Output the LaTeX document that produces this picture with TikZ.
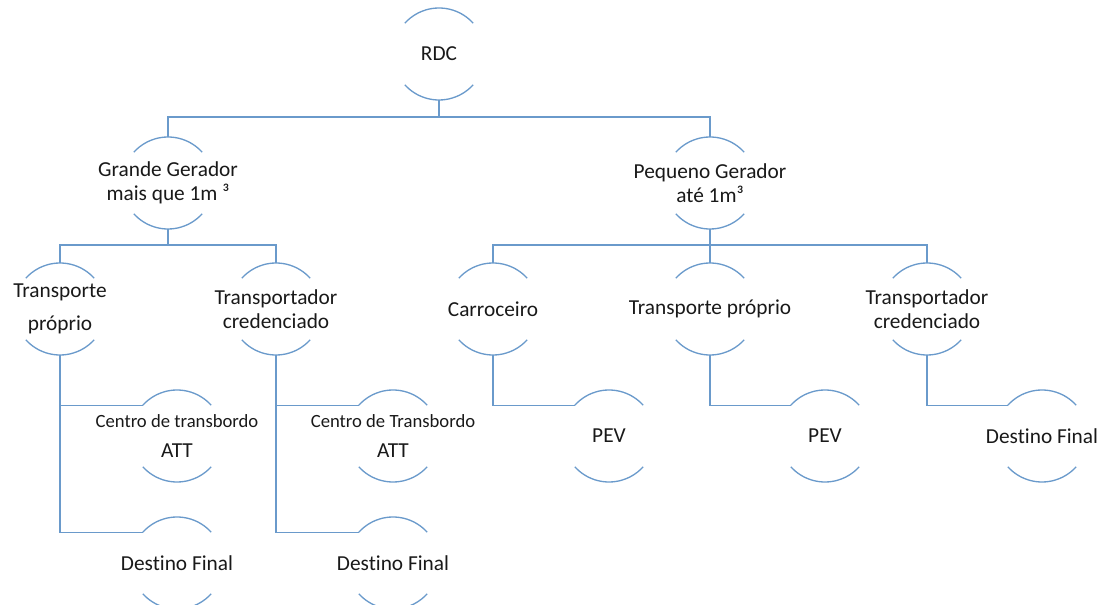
\documentclass[tikz,border=0pt]{standalone}
\usepackage{fontspec}
\setmainfont{Carlito}[Ligatures=NoCommon]
\usepackage{tikz}
\usetikzlibrary{positioning}
\definecolor{linkblue}{RGB}{106,154,203}
\tikzstyle{ln}=[draw=linkblue, line width=1pt]
\tikzstyle{ring}=[circle, minimum size=69pt, inner sep=0pt, outer sep=0pt]
\tikzstyle{lbl}=[font=\fontsize{16}{18}\selectfont, align=center, text=black!90, inner sep=0pt]
\tikzstyle{lblwide}=[lbl, font=\fontsize{16}{24.75}\selectfont]
\tikzstyle{lblsmall}=[lbl, font=\fontsize{16}{22.5}\selectfont]
\newcommand{\halfarcs}[1]{\draw[ln] (#1.42) arc[start angle=42,end angle=138,radius=34.5pt]
  (#1.222) arc[start angle=222,end angle=318,radius=34.5pt];}
\begin{document}
\begin{tikzpicture}[x=0.75pt, y=-0.75pt]
  \useasboundingbox (0,0) rectangle (1103,605);
  % top
  \node[ring, label={[lbl]center:RDC}] (rdc) at (439,54) {};
  \node[ring, label={[lbl]center:{Grande Gerador\\mais que 1m ³}}] (gg) at (168,183) {};
  \node[ring, label={[lbl]center:{Pequeno Gerador\\até 1m³}}] (pg) at (710,183) {};
  % grande gerador side
  \node[ring, label={[lblwide]center:{Transporte\\próprio}}] (tpA) at (60,309) {};
  \node[ring, label={[lbl]center:{Transportador\\credenciado}}] (tcA) at (276,309) {};
  \node[ring, label={[lblsmall]center:{{\fontsize{14}{22.5}\selectfont Centro de transbordo}\\ATT}}] (attA) at (177,436) {};
  \node[ring, label={[lblsmall]center:{{\fontsize{14}{22.5}\selectfont Centro de Transbordo}\\ATT}}] (attB) at (393,436) {};
  \node[ring, label={[lbl]center:Destino Final}] (dfA) at (177,563) {};
  \node[ring, label={[lbl]center:Destino Final}] (dfB) at (393,563) {};
  % pequeno gerador side
  \node[ring, label={[lbl]center:Carroceiro}] (car) at (493,309) {};
  \node[ring, label={[lbl]center:Transporte próprio}] (tpB) at (710,309) {};
  \node[ring, label={[lbl]center:{Transportador\\credenciado}}] (tcB) at (927,309) {};
  \node[ring, label={[lbl]center:PEV}] (pevA) at (609,436) {};
  \node[ring, label={[lbl]center:PEV}] (pevB) at (825,436) {};
  \node[ring, label={[lbl]center:Destino Final}] (dfC) at (1042,436) {};

  \foreach \n in {rdc,gg,pg,tpA,tcA,attA,attB,dfA,dfB,car,tpB,tcB,pevA,pevB,dfC}
    {\halfarcs{\n}}

  \draw[ln] (rdc.south) -- ++(0,17) coordinate (busA);
  \draw[ln] (gg.north) |- (busA) -| (pg.north);
  \draw[ln] (gg.south) -- ++(0,16) coordinate (busB);
  \draw[ln] (tpA.north) |- (busB) -| (tcA.north);
  \draw[ln] (pg.south) -- ++(0,16) coordinate (busC);
  \draw[ln] (car.north) |- (busC) -| (tcB.north);
  \draw[ln] (busC) -- (tpB.north);

  \draw[ln] (tpA.south) |- (attA.138);
  \draw[ln] (tpA.south) |- (dfA.138);
  \draw[ln] (tcA.south) |- (attB.138);
  \draw[ln] (tcA.south) |- (dfB.138);
  \draw[ln] (car.south) |- (pevA.138);
  \draw[ln] (tpB.south) |- (pevB.138);
  \draw[ln] (tcB.south) |- (dfC.138);
\end{tikzpicture}
\end{document}
